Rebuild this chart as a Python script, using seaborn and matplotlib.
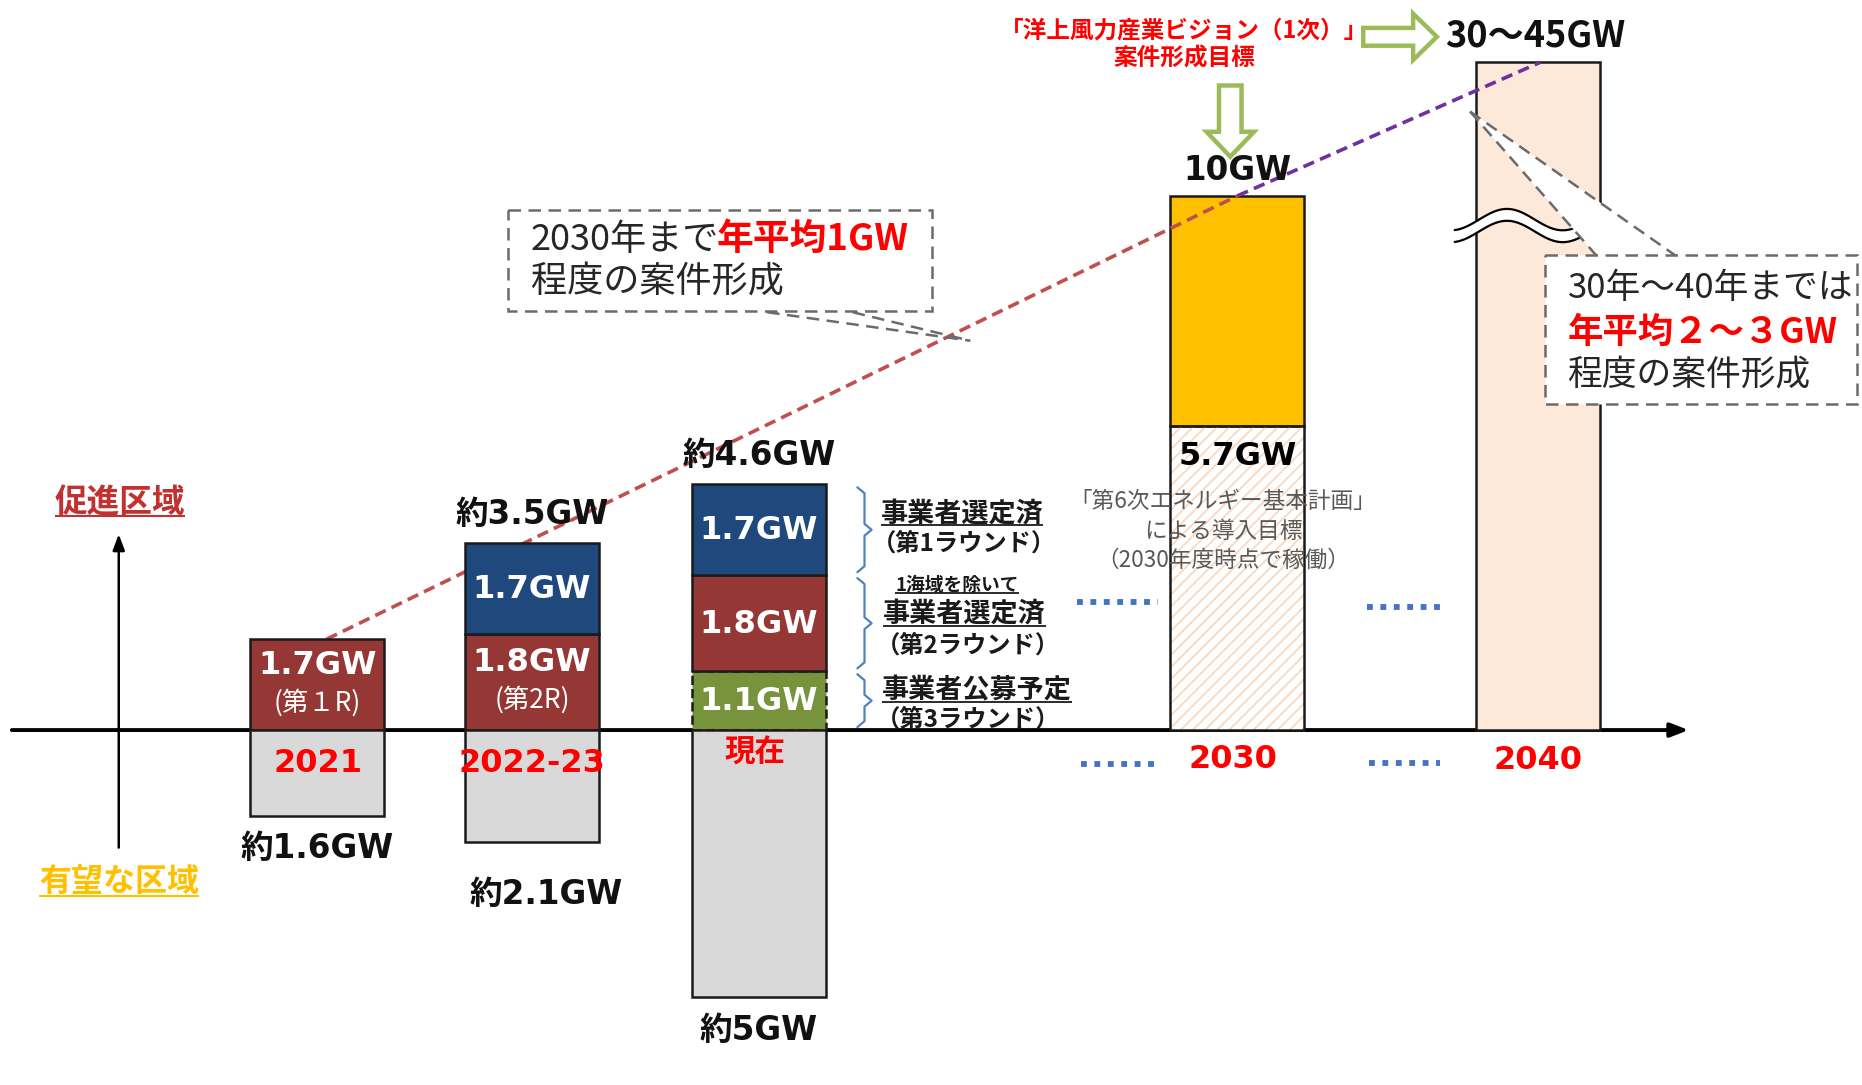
import numpy as np
import pandas as pd
import matplotlib
matplotlib.use("Agg")
import matplotlib.pyplot as plt
import seaborn as sns
from matplotlib.patches import Rectangle, Polygon, FancyArrow

# ------------------------------------------------------------------ data
periods          = ["2021", "2022-23", "現在", "2030", "2040"]
layer1_gw        = [1.7, 1.8, 1.1, 5.7]      # lowest stacked segment (GW)
layer2_gw        = [0.0, 1.7, 1.8, 4.3]      # middle segment
layer3_gw        = [0.0, 0.0, 1.7, 0.0]      # top segment
layer1_text      = ["1.7GW", "1.8GW", "1.1GW", "5.7GW"]
layer1_sub       = ["(第１R)", "(第2R)", "", ""]
layer2_text      = ["", "1.7GW", "1.8GW", ""]
layer3_text      = ["", "", "1.7GW", ""]
total_gw         = [1.7, 3.5, 4.6, 10.0]
total_text       = ["", "約3.5GW", "約4.6GW", "10GW"]
promising_gw     = [1.6, 2.1, 5.0]          # 有望な区域 (below the axis)
promising_text   = ["約1.6GW", "約2.1GW", "約5GW"]
target_2040_text = "30～45GW"
bar_2040_drawn   = 12.5                     # broken bar (drawn height, GW units)
trend_gw         = [1.7, 10.0, 12.5]        # 案件形成の推移 (2021 → 2030 → 2040)

# ------------------------------------------------------------------ layout / style
W, H = 1568, 914          # layout units = px of the shrunk reference
BASE = 615                # axis position from top
PPG = 45                  # layout px per GW
PT = 1862 / 1568 * 0.72   # points per layout px
X = [267, 448, 639, 1042, 1295]
trend_x = [275, 1042, 1297]
BW, BW40 = 113, 104
EDGE = "#1a1a1a"
RED_BAR, BLUE_BAR, GREEN_BAR = "#953735", "#1F497D", "#77933C"
GRAY_BAR, YEL_BAR, PEACH = "#D9D9D9", "#FFC000", "#FDE9D9"
HATCH_C = "#FBDAC2"
TXT_RED = "#FF0000"
layer1_colors = [RED_BAR, RED_BAR, GREEN_BAR, "hatch"]
layer2_colors = [None, BLUE_BAR, RED_BAR, YEL_BAR]
layer3_colors = [None, None, BLUE_BAR, None]

sns.set_theme(style="white")
JP = ["Noto Sans CJK JP", "DejaVu Sans"]
NUM = ["DejaVu Sans", "Noto Sans CJK JP"]
plt.rcParams["font.family"] = JP

fig = plt.figure(figsize=(18.62, 10.85), dpi=100)
ax = fig.add_axes([0, 0, 1, 1])
ov = fig.add_axes([0, 0, 1, 1])
ax.axis("off")
ov.axis("off")


def lab(x, y, s, down=0, right=0, **kw):
    kw.setdefault("ha", "center")
    kw.setdefault("va", "center")
    kw.setdefault("zorder", 5)
    return ax.annotate(s, (x, y), xytext=(right * PT, -down * PT),
                       textcoords="offset points", **kw)


# ------------------------------------------------------------------ axis line
ax.annotate("", xy=(1422, 0), xytext=(10, 0), zorder=1,
            arrowprops=dict(arrowstyle="-|>,head_length=0.9,head_width=0.35",
                            lw=2.8, color="black", shrinkA=0, shrinkB=0))

# ------------------------------------------------------------------ stacked bars
layers = [(layer1_gw, layer1_colors, layer1_text),
          (layer2_gw, layer2_colors, layer2_text),
          (layer3_gw, layer3_colors, layer3_text)]
seg_extent = {}
for i in range(4):
    bottom = 0.0
    z = 1.5 if i == 3 else 2.5
    for li, (vals, cols, txts) in enumerate(layers):
        v = vals[i]
        if v <= 0:
            continue
        c = cols[i]
        if c == "hatch":
            bar = ax.bar(X[i], v, BW, bottom=bottom, color="white",
                         edgecolor="none", zorder=z)[0]
            hpx = v * PPG
            left = X[i] - BW / 2
            for x0 in np.arange(left - hpx, left + BW, 10.2):
                ln, = ax.plot([x0, x0 + hpx], [bottom, bottom + v], color=HATCH_C,
                              lw=1.4, zorder=z + 0.01, solid_capstyle="butt")
                ln.set_clip_path(bar)
            ax.bar(X[i], v, BW, bottom=bottom, fill=False, edgecolor=EDGE,
                   lw=1.8, zorder=z + 0.02)
        else:
            ls = "--" if c == GREEN_BAR else "-"
            ax.bar(X[i], v, BW, bottom=bottom, color=c, edgecolor=EDGE,
                   lw=1.8, linestyle=ls, zorder=z)
        seg_extent[(i, li)] = (bottom, bottom + v)
        bottom += v

# segment labels
for i in range(4):
    for li, (vals, cols, txts) in enumerate(layers):
        if (i, li) not in seg_extent or not txts[i]:
            continue
        b, t = seg_extent[(i, li)]
        if i == 3:
            lab(X[i], t, txts[i], down=26, color="black", fontsize=23,
                fontweight="bold", family=NUM)
        elif li == 0 and layer1_sub[i]:
            lab(X[i], (b + t) / 2, txts[i], down=-16, color="white",
                fontsize=23, fontweight="bold", family=NUM)
            lab(X[i], (b + t) / 2, layer1_sub[i], down=15, color="white",
                fontsize=19, family=JP)
        else:
            lab(X[i], (b + t) / 2, txts[i], down=1, color="white", fontsize=23,
                fontweight="bold", family=NUM)

# 2030 target note
top57 = seg_extent[(3, 0)][1]
for d, s in [(64, "「第6次エネルギー基本計画」"), (89, "による導入目標"),
             (113, "（2030年度時点で稼働）")]:
    lab(1030, top57, s, down=d, right=0, color="#595959", fontsize=16.3, family=JP)

# totals
for i in range(4):
    if total_text[i]:
        lab(X[i], total_gw[i], total_text[i], down=-24 if i < 3 else -21,
            color="#111111", fontsize=23.5, fontweight="bold", family=NUM)

# 2040 broken bar
ax.bar(X[4], bar_2040_drawn, BW40, color=PEACH, edgecolor=EDGE, lw=1.8, zorder=2.5)

# 有望な区域 bars below the axis
ax.bar(X[:3], [-v for v in promising_gw], BW, color=GRAY_BAR, edgecolor=EDGE,
       lw=1.8, zorder=2.5)
for i, (v, s) in enumerate(zip(promising_gw, promising_text)):
    lab(X[i], -v, s, down=28 if i != 1 else 44, right=0 if i != 1 else 12,
        color="#111111", fontsize=23.5, fontweight="bold", family=NUM)

# trend lines
trend = pd.DataFrame({"x": trend_x, "gw": trend_gw})
sns.lineplot(data=trend.iloc[:2], x="x", y="gw", ax=ax, color="#C0504D", lw=2.6,
             linestyle=(0, (3.2, 1.8)), zorder=2.0)
sns.lineplot(data=trend.iloc[1:], x="x", y="gw", ax=ax, color="#7030A0", lw=2.6,
             linestyle=(0, (3.2, 1.8)), zorder=3.0)

# brackets beside 現在 bar
underlines = []
g = 2.5 / PPG
d = 5 / PPG
bracket_text = {
    2: [("事業者選定済", -14, 19.5, True, 810), ("（第1ラウンド）", 12, 17.5, False, 812)],
    1: [("1海域を除いて", -32, 13.5, True, 806), ("事業者選定済", -8, 19.5, True, 812),
        ("（第2ラウンド）", 19, 17.5, False, 815)],
    0: [("事業者公募予定", -9, 19.5, True, 823), ("（第3ラウンド）", 16, 17.5, False, 815)],
}
for li in range(3):
    b, t = seg_extent[(2, li)]
    top, bot = t - g, b + g
    mid = (top + bot) / 2
    xs = [722, 728, 728, 734, 728, 728, 722]
    ys = [top, top - d, mid + d, mid, mid - d, bot + d, bot]
    ax.plot(xs, ys, color="#4F81BD", lw=1.6, zorder=3)
    for s, off, fs, ul, xx in bracket_text[li]:
        tobj = lab(xx, mid, s, down=off, color="#1a1a1a", fontsize=fs,
                   fontweight="bold", family=JP)
        if ul:
            underlines.append((tobj, "#1a1a1a", 1.3))

# ------------------------------------------------------------------ overlay decorations
ov.set_xlim(0, W)
ov.set_ylim(H, 0)


def otext(x, y, s, **kw):
    kw.setdefault("ha", "center")
    kw.setdefault("va", "center")
    kw.setdefault("zorder", 6)
    return ov.text(x, y, s, **kw)


# vertical arrow
ov.annotate("", xy=(100, 450), xytext=(100, 714),
            arrowprops=dict(arrowstyle="-|>,head_length=0.8,head_width=0.3",
                            lw=1.8, color="black", shrinkA=0, shrinkB=0))
t = otext(101, 423, "促進区域", color="#C0312F", fontsize=23.5, fontweight="bold")
underlines.append((t, "#C0312F", 1.5))
t = otext(100, 743, "有望な区域", color="#FFC000", fontsize=23, fontweight="bold")
underlines.append((t, "#FFC000", 1.5))

# year labels
for s, x, y in [("2021", 268, 643), ("2022-23", 448, 643), ("2030", 1038, 640),
                ("2040", 1295, 641)]:
    otext(x, y, s, color=TXT_RED, fontsize=23, fontweight="bold", family=NUM)
otext(636, 634, "現在", color=TXT_RED, fontsize=22, fontweight="bold")

# blue dotted ellipses
for x0, x1, y in [(907, 975, 507), (1151, 1213, 511), (910, 975, 644), (1153, 1213, 643)]:
    ov.plot([x0, x1], [y, y], color="#4472C4", lw=4.2, linestyle=(0, (1, 1.3)),
            dash_capstyle="butt", zorder=4)

# top: vision target + green arrows
otext(997, 26, "「洋上風力産業ビジョン（1次）」", color=TXT_RED, fontsize=17,
      fontweight="bold")
otext(997, 49, "案件形成目標", color=TXT_RED, fontsize=17, fontweight="bold")
otext(1293, 30, target_2040_text, color="#111111", fontsize=26, fontweight="bold")
ov.add_patch(FancyArrow(1148, 31, 62, 0, width=15, head_width=39, head_length=20,
                        length_includes_head=True, fc="white", ec="#9BBB59", lw=3.2,
                        zorder=4))
ov.add_patch(FancyArrow(1036, 72, 0, 60, width=19, head_width=40, head_length=21,
                        length_includes_head=True, fc="white", ec="#9BBB59", lw=3.2,
                        zorder=4))

# break mark on 2040 bar
xs = np.linspace(1225, 1330, 80)
yc = 190 - 9 * np.sin(2 * np.pi * (xs - 1245.5) / 94)
ov.fill_between(xs, yc - 5, yc + 5, color="white", zorder=2, lw=0)
ov.plot(xs, yc - 5, color="black", lw=1.6, zorder=2.1)
ov.plot(xs, yc + 5, color="black", lw=1.6, zorder=2.1)

DASH = (0, (5, 3))
GRAYL = "#6b6b6b"
# callout 1
ov.add_patch(Rectangle((428, 177), 357, 85, fc="white", ec=GRAYL, lw=1.8,
                       linestyle=DASH, zorder=3))
for xa in (646, 718):
    ov.plot([xa, 817], [263, 287], color=GRAYL, lw=1.8, linestyle=DASH, zorder=3)
t1 = otext(447, 202, "2030年まで", ha="left", color="#262626", fontsize=26)
t1b = otext(447, 202, "年平均1GW", ha="left", color=TXT_RED, fontsize=26.5,
            fontweight="bold")
otext(447, 238, "程度の案件形成", ha="left", color="#262626", fontsize=26)

# callout 2
ov.add_patch(Polygon([(1238, 94), (1345, 216), (1412, 216)], closed=True,
                     fc="white", ec="none", zorder=3))
for xb in (1345, 1412):
    ov.plot([1238, xb], [94, 216], color=GRAYL, lw=1.8, linestyle=DASH, zorder=3.1)
ov.add_patch(Rectangle((1301, 215), 263, 125, fc="white", ec=GRAYL, lw=1.8,
                       linestyle=DASH, zorder=3.2))
otext(1320, 243, "30年～40年までは", ha="left", color="#262626", fontsize=25)
otext(1320, 280, "年平均２～３GW", ha="left", color=TXT_RED, fontsize=25.5,
      fontweight="bold")
otext(1320, 316, "程度の案件形成", ha="left", color="#262626", fontsize=25)

# ------------------------------------------------------------------ limits and finishing
ax.set_xlim(0, W)
ax.set_ylim(-(H - BASE) / PPG, BASE / PPG)

fig.canvas.draw()
r = fig.canvas.get_renderer()
inv = ov.transData.inverted()
bb = t1.get_window_extent(r)
x_end = inv.transform([[bb.x1, bb.y0]])[0][0]
t1b.set_x(x_end - 2)

for tobj, col, lw in underlines:
    bb = tobj.get_window_extent(r)
    (x0, yb), (x1, yt) = inv.transform([[bb.x0, bb.y0], [bb.x1, bb.y1]])
    h = yb - yt
    yu = yb - 0.07 * h
    ov.plot([x0, x1], [yu, yu], color=col, lw=lw, zorder=6, solid_capstyle="butt")

fig.savefig("out.png", dpi=100)
